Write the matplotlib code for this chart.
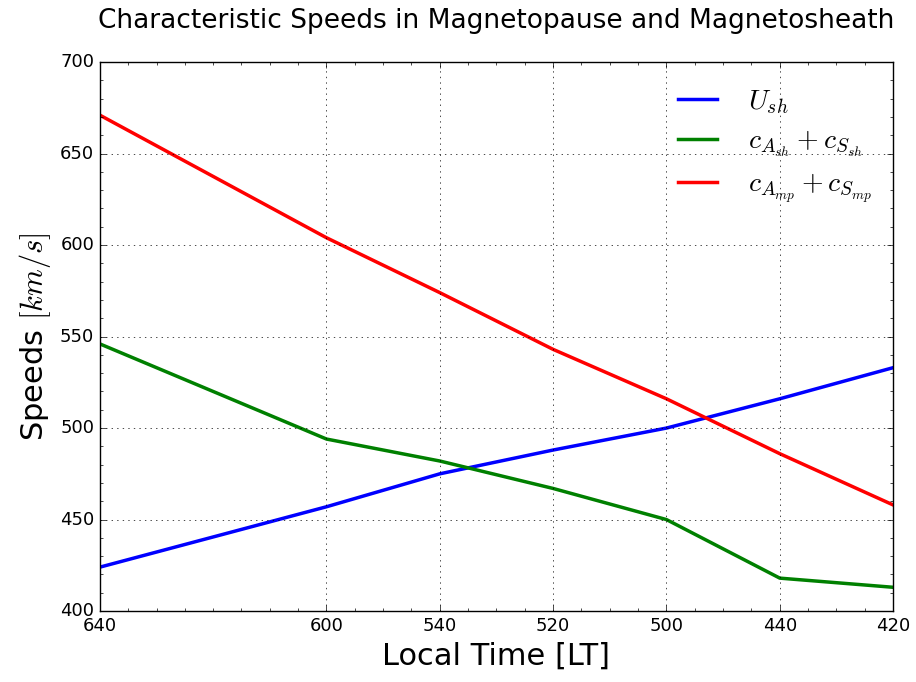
import matplotlib
matplotlib.use('Agg')
import matplotlib.pyplot as plt
from matplotlib.ticker import MultipleLocator, FuncFormatter

plt.style.use('classic')

# local time in minutes since midnight (6:40 ... 4:20)
times = [400, 360, 340, 320, 300, 280, 260]
u_sh = [424, 457, 475, 488, 500, 516, 533]
c_sh = [546, 494, 482, 467, 450, 418, 413]
c_mp = [671, 604, 574, 543, 516, 486, 458]

fig = plt.figure(figsize=(9.16, 6.82), dpi=100)
ax = fig.add_axes([0.109, 0.104, 0.866, 0.805])

ax.plot(times, u_sh, color='b', linewidth=2.5, label=r'$U_{sh}$')
ax.plot(times, c_sh, color='g', linewidth=2.5, label=r'$c_{A_{sh}} + c_{S_{sh}}$')
ax.plot(times, c_mp, color='r', linewidth=2.5, label=r'$c_{A_{mp}} + c_{S_{mp}}$')

ax.set_xlim(400, 260)
ax.set_ylim(400, 700)
ax.set_xticks(times)
ax.xaxis.set_major_formatter(FuncFormatter(lambda v, p: '%d%02d' % (int(v) // 60, int(v) % 60)))
ax.xaxis.set_minor_locator(MultipleLocator(5))
ax.yaxis.set_minor_locator(MultipleLocator(10))
ax.tick_params(labelsize=13)
ax.grid(True)

ax.set_xlabel('Local Time [LT]', fontsize=22)
ax.set_ylabel(r'Speeds $[km/s]$', fontsize=22)
ax.set_title('Characteristic Speeds in Magnetopause and Magnetosheath', fontsize=19, y=1.05)
ax.legend(loc='upper right', frameon=False, fontsize=20, labelspacing=0.4,
          handlelength=2.0, bbox_to_anchor=(1.005, 1.0))

fig.savefig('out.png', dpi=100)
